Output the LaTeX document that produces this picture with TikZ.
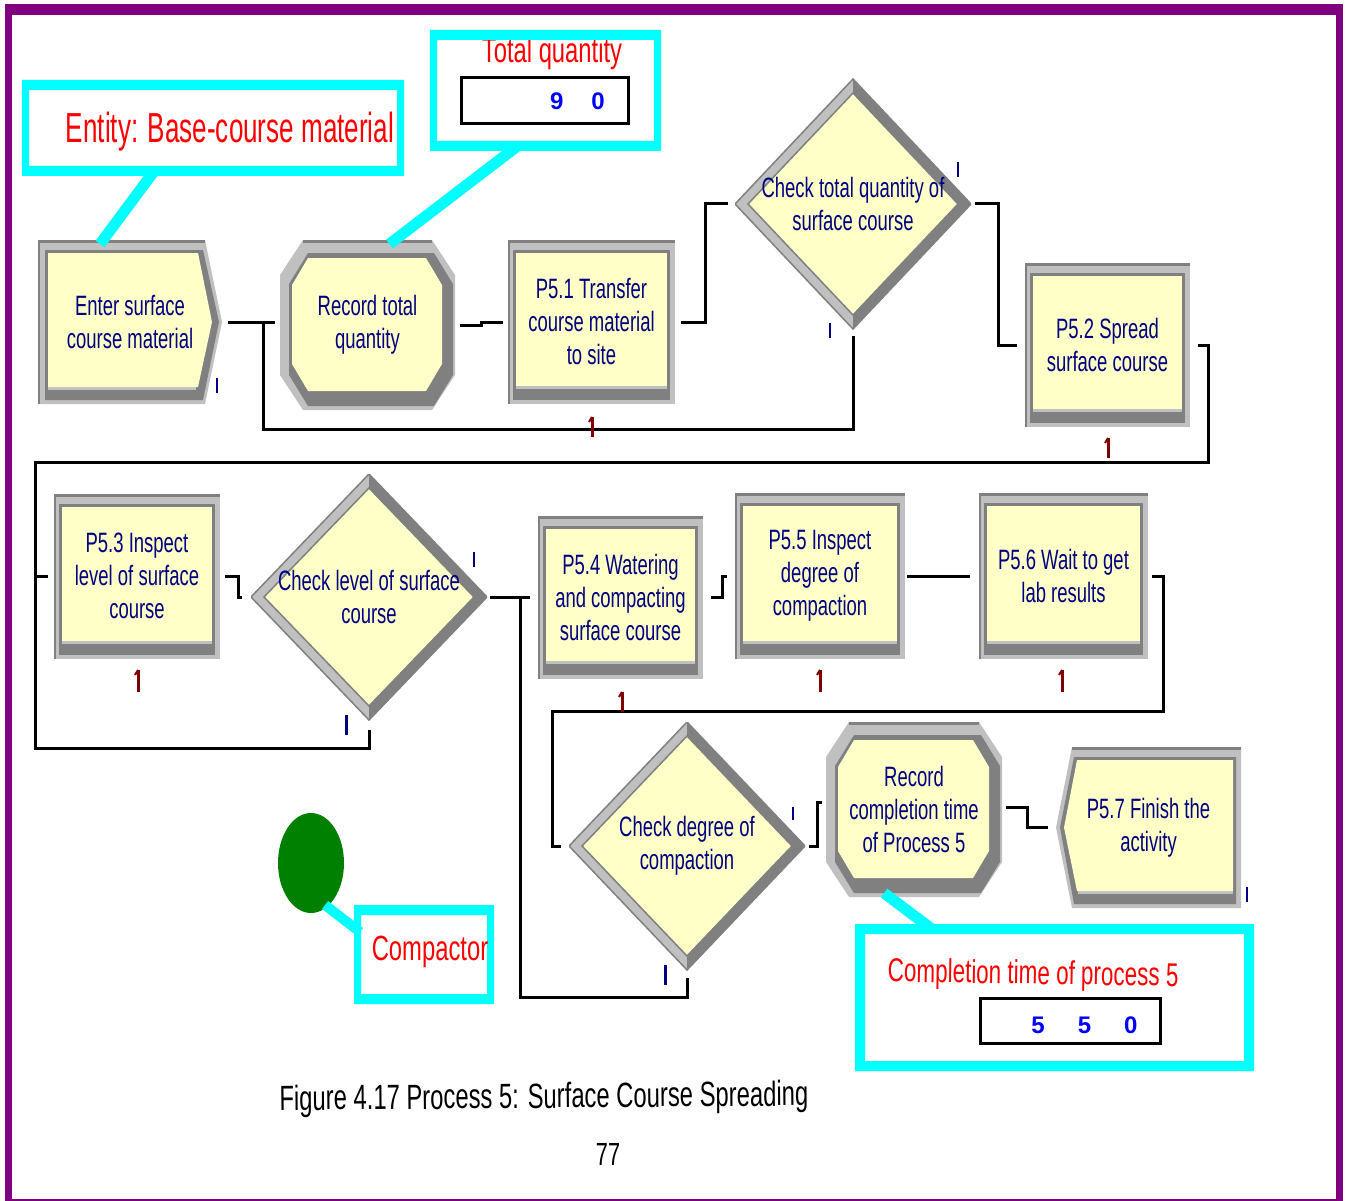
\documentclass[tikz,border=0pt]{standalone}
\usepackage{fontspec}
\newfontfamily\arenafont[FakeStretch=0.66]{Liberation Sans}
\newfontfamily\notefont[FakeStretch=0.68]{Liberation Sans}
\newfontfamily\entityfont[FakeStretch=0.62]{Liberation Sans}
\newfontfamily\digitfont{Liberation Sans}
\usetikzlibrary{shapes.geometric,calc}

\definecolor{framepurple}{HTML}{800080}
\definecolor{callcyan}{HTML}{00FFFF}
\definecolor{notered}{HTML}{FF0000}
\definecolor{navy}{HTML}{000080}
\definecolor{digitblue}{HTML}{0000FF}
\definecolor{modfill}{HTML}{FFFFC8}
\definecolor{lgray}{HTML}{C0C0C0}
\definecolor{dgray}{HTML}{808080}
\definecolor{countred}{HTML}{800000}
\definecolor{resgreen}{HTML}{008000}

% corner points of the current path picture
\newcommand\ppcorners{%
  \coordinate (ppnw) at (path picture bounding box.north west);
  \coordinate (ppne) at (path picture bounding box.north east);
  \coordinate (ppsw) at (path picture bounding box.south west);
  \coordinate (ppse) at (path picture bounding box.south east);
  \coordinate (ppn) at (path picture bounding box.north);
  \coordinate (pps) at (path picture bounding box.south);
  \coordinate (ppe) at (path picture bounding box.east);
  \coordinate (ppw) at (path picture bounding box.west);}

% chamfered outline: insets left, top, right, bottom; chamfer x, chamfer y
\newcommand\octo[6]{%
  ([shift={(#1pt+#5pt,-#2pt)}]ppnw) -- ([shift={(-#3pt-#5pt,-#2pt)}]ppne) --
  ([shift={(-#3pt,-#2pt-#6pt)}]ppne) -- ([shift={(-#3pt,#4pt+#6pt)}]ppse) --
  ([shift={(-#3pt-#5pt,#4pt)}]ppse) -- ([shift={(#1pt+#5pt,#4pt)}]ppsw) --
  ([shift={(#1pt,#4pt+#6pt)}]ppsw) -- ([shift={(#1pt,-#2pt-#6pt)}]ppnw) -- cycle}

% cyan note frame drawn on a named area: node, side width, top/bottom width
\newcommand\noteframe[3]{%
  \fill[callcyan, even odd rule] (#1.north west) rectangle (#1.south east)
    ([shift={(#2pt,-#3pt)}]#1.north west) rectangle ([shift={(-#2pt,#3pt)}]#1.south east);}

\tikzset{
  every node/.style={inner sep=0pt, outer sep=0pt},
  modlabel/.style={text=navy, align=center, font=\arenafont\fontsize{28}{33}\selectfont},
  processbox/.style={modlabel, rectangle, fill=lgray,
    path picture={\ppcorners
      \fill[dgray] (ppnw) rectangle ([yshift=-3pt]ppne);
      \fill[dgray] (ppnw) rectangle ([xshift=2pt]ppsw);
      \fill[dgray] ([shift={(5pt,-10pt)}]ppnw) rectangle ([shift={(-5pt,4pt)}]ppse);
      \fill[lgray] ([shift={(8pt,15pt)}]ppsw) rectangle ([shift={(-8pt,18pt)}]ppse);
      \fill[modfill] ([shift={(8pt,-13pt)}]ppnw) rectangle ([shift={(-8pt,18pt)}]ppse);}},
  recordbox/.style={modlabel, rectangle, fill=white,
    path picture={\ppcorners
      \fill[lgray] \octo{0}{0}{0}{0}{23}{35};
      \fill[dgray] ([xshift=23pt]ppnw) rectangle ([shift={(-23pt,-3pt)}]ppne);
      \fill[dgray] \octo{9}{13}{2}{4}{19}{31};
      \fill[modfill] \octo{12}{18}{13}{19}{16}{27};}},
  createbox/.style={modlabel, rectangle, fill=white,
    path picture={\ppcorners
      \fill[lgray] (ppnw) -- ([xshift=-17pt]ppne) -- (ppe) -- ([xshift=-17pt]ppse) -- (ppsw) -- cycle;
      \fill[dgray] (ppnw) rectangle ([shift={(-17pt,-3pt)}]ppne);
      \fill[dgray] (ppnw) rectangle ([xshift=2pt]ppsw);
      \fill[dgray] ([shift={(7pt,-10pt)}]ppnw) -- ([shift={(-19pt,-10pt)}]ppne) -- ([xshift=-3pt]ppe)
        -- ([shift={(-19pt,4pt)}]ppse) -- ([shift={(7pt,4pt)}]ppsw) -- cycle;
      \fill[lgray] ([shift={(10pt,14pt)}]ppsw) rectangle ([shift={(-26pt,17pt)}]ppse);
      \fill[modfill] ([shift={(10pt,-13pt)}]ppnw) -- ([shift={(-24pt,-13pt)}]ppne) -- ([xshift=-10pt]ppe)
        -- ([shift={(-24pt,17pt)}]ppse) -- ([shift={(10pt,17pt)}]ppsw) -- cycle;}},
  disposebox/.style={modlabel, rectangle, fill=white,
    path picture={\ppcorners
      \fill[lgray] ([xshift=16pt]ppnw) -- (ppne) -- (ppse) -- ([xshift=16pt]ppsw) -- (ppw) -- cycle;
      \fill[dgray] ([xshift=16pt]ppnw) rectangle ([yshift=-3pt]ppne);
      \fill[dgray] ([shift={(18pt,-10pt)}]ppnw) -- ([shift={(-5pt,-10pt)}]ppne) -- ([shift={(-5pt,4pt)}]ppse)
        -- ([shift={(18pt,4pt)}]ppsw) -- ([xshift=4pt]ppw) -- cycle;
      \fill[lgray] ([shift={(22pt,14pt)}]ppsw) rectangle ([shift={(-8pt,17pt)}]ppse);
      \fill[modfill] ([shift={(21pt,-13pt)}]ppnw) -- ([shift={(-8pt,-13pt)}]ppne) -- ([shift={(-8pt,17pt)}]ppse)
        -- ([shift={(21pt,17pt)}]ppsw) -- ([xshift=8pt]ppw) -- cycle;}},
  decisionbox/.style={modlabel, rectangle, fill=white,
    path picture={\ppcorners
      \fill[lgray] (ppn) -- (ppe) -- (pps) -- (ppw) -- cycle;
      \draw[dgray, line width=1.5pt] (ppn) -- (ppe) -- (pps) -- (ppw) -- cycle;
      \fill[dgray] (ppn) -- (ppe) -- (pps) -- ([yshift=14pt]pps) -- ([xshift=-13pt]ppe) -- ([yshift=-14pt]ppn) -- cycle;
      \filldraw[fill=modfill, draw=dgray, line width=1.5pt] ([yshift=-14pt]ppn) -- ([xshift=-13pt]ppe)
        -- ([yshift=14pt]pps) -- ([xshift=13pt]ppw) -- cycle;}},
  conn/.style={draw=black, line width=3pt},
  pointer/.style={draw=callcyan, line width=11pt},
  notearea/.style={rectangle, draw=none},
  notetext/.style={text=notered, anchor=base, font=\notefont\fontsize{#1}{#1}\selectfont},
  valuebox/.style={rectangle, draw=black, line width=3pt, fill=white},
  digits/.style={text=digitblue, font=\digitfont\bfseries\fontsize{24}{24}\selectfont},
  outmark/.style={draw=navy, line width=2pt},
  countmark/.style={draw=countred, line width=3pt},
}

\begin{document}
\begin{tikzpicture}[x=1pt,y=-1pt]
\useasboundingbox (0,0) rectangle (1346,1201);

% page frame
\fill[framepurple] (5,4) rectangle (1343,15);
\fill[framepurple] (5,4) rectangle (12,1201);
\fill[framepurple] (1336,4) rectangle (1343,1201);
\fill[framepurple] (5,1199) rectangle (1343,1201);

% modules
\node[createbox, minimum width=184pt, minimum height=164pt] (enter) at (130,322) {Enter surface\\course material};
\node[recordbox, minimum width=175pt, minimum height=170pt] (rec1) at (367.5,325) {Record total\\quantity};
\node[processbox, minimum width=167pt, minimum height=164pt] (p51) at (591.5,322) {P5.1 Transfer\\course material\\to site};
\node[decisionbox, minimum width=236pt, minimum height=250pt] (dec1) at (853,204) {Check total quantity of\\surface course};
\node[processbox, minimum width=165pt, minimum height=164pt] (p52) at (1107.5,345) {P5.2 Spread\\surface course};
\node[processbox, minimum width=166pt, minimum height=165pt] (p53) at (137,576) {P5.3 Inspect\\level of surface\\course};
\node[decisionbox, minimum width=236pt, minimum height=246pt] (dec2) at (369,597) {Check level of surface\\course};
\node[processbox, minimum width=165pt, minimum height=163pt] (p54) at (620.5,597) {P5.4 Watering\\and compacting\\surface course};
\node[processbox, minimum width=170pt, minimum height=166pt] (p55) at (820,576) {P5.5 Inspect\\degree of\\compaction};
\node[processbox, minimum width=169pt, minimum height=166pt] (p56) at (1063.5,576) {P5.6 Wait to get\\lab results};
\node[decisionbox, minimum width=236pt, minimum height=248pt] (dec3) at (687,846) {Check degree of\\compaction};
\node[recordbox, minimum width=176pt, minimum height=175pt] (rec2) at (914,809.5) {Record\\completion time\\of Process 5};
\node[disposebox, minimum width=185pt, minimum height=161pt] (p57) at (1148.5,827.5) {P5.7 Finish the\\activity};

% junctions of the connector network
\coordinate (j1) at ([xshift=41pt]enter.east);
\coordinate (bus1) at (35,462);
\coordinate (j2) at (bus1 |- p53.west);
\coordinate (j3) at ([xshift=33pt]dec2.east);
\coordinate (bus2) at (552,711);

% connectors
\draw[conn] ([xshift=6pt]enter.east) -- ([xshift=-5pt]rec1.west |- enter.east);
\draw[conn] ([xshift=5pt]rec1.east) -- ++(21pt,0) |- ([xshift=-5pt]p51.west);
\draw[conn] ([xshift=6pt]p51.east) -- ++(24pt,0) |- ([xshift=-7pt]dec1.west);
\draw[conn] ([xshift=4pt]dec1.east) -- ++(23pt,0) |- ([xshift=-8pt]p52.west);
\draw[conn] ([yshift=-7pt]dec1.south) -- ++(0,-93pt) -| (j1);
\draw[conn] ([xshift=8pt]p52.east) -- ++(10pt,0) |- (bus1) |- ([xshift=-6pt]p53.west);
\draw[conn] ([xshift=5pt]p53.east) -- ++(13pt,0) |- ([xshift=-9pt]dec2.west);
\draw[conn] ([xshift=3pt]dec2.east) -- ([xshift=-8pt]p54.west);
\draw[conn] ([yshift=-10pt]dec2.south) -- ++(0,-18pt) -| (j2);
\draw[conn] ([xshift=8pt]p54.east) -- ++(11pt,0) |- ([xshift=-8pt]p55.west);
\draw[conn] ([xshift=2pt]p55.east) -- ([xshift=-9pt]p56.west);
\draw[conn] ([xshift=4pt]p56.east) -- ++(11pt,0) |- (bus2) |- ([xshift=-8pt]dec3.west);
\draw[conn] ([yshift=-8pt]dec3.south) -- ++(0,-19pt) -| (j3);
\draw[conn] ([xshift=4pt]dec3.east) -- ++(8pt,0) |- ([shift={(-4pt,7pt)}]rec2.west);
\draw[conn] ([shift={(4pt,2pt)}]rec2.east) -- ++(21pt,0) |- ([xshift=-8pt]p57.west);

% output count marks
\foreach \x/\ya/\yb/\w in {217/378/393/2, 958/162/177/2, 830/323/338/2, 474/552/567/2,
    346/715/735/3, 793/807/820/2, 665/965/985/3, 1247/887/902/2}
  \draw[outmark, line width=\w pt] (\x,\ya) -- (\x,\yb);

% work-in-process marks
\foreach \x/\ya/\yb in {592/417/437, 1108/438/458, 138/670/692, 622/692/712, 820/670/692, 1062/670/692} {
  \draw[countmark] (\x,\ya) -- (\x,\yb);
  \draw[countmark, line width=2pt] (\x,\ya) -- (\x-3,\ya+5);
}

% resource
\node[ellipse, fill=resgreen, minimum width=66pt, minimum height=100pt] (compres) at (311,863) {};

% note areas
\node[notearea, minimum width=382pt, minimum height=96pt] (entnote) at (213,128) {};
\node[notearea, minimum width=231pt, minimum height=121pt] (qtynote) at (545.5,90.5) {};
\node[notearea, minimum width=399pt, minimum height=147pt] (timenote) at (1054.5,997.5) {};
\node[notearea, minimum width=140pt, minimum height=99pt] (compnote) at (424,954.5) {};

% note pointers
\draw[pointer] ([shift={(-58pt,6pt)}]entnote.south) -- ([shift={(-30pt,-4pt)}]enter.north);
\draw[pointer] ([shift={(-28pt,5pt)}]qtynote.south) -- ([shift={(22pt,-4pt)}]rec1.north);
\draw[pointer] ([shift={(-30pt,4pt)}]rec2.south) -- ([shift={(-124pt,-4pt)}]timenote.north);
\draw[pointer, line width=10pt] ([shift={(14pt,-42pt)}]compres.center) -- ([shift={(6pt,-27pt)}]compnote.north west);

% note contents
\node[notetext=35] (qtytext) at (552,63) {Total quantity};
\node[valuebox, minimum width=167pt, minimum height=46pt] (qtyvalue) at (544.5,101) {};
\node[digits] (qtydigits) at (577.5,101) {9\hspace{28pt}0};
\node[valuebox, minimum width=180pt, minimum height=45pt] (timevalue) at (1070,1020.5) {};
\node[digits] (timedigits) at (1084.5,1025) {5\hspace{33pt}5\hspace{33pt}0};

\noteframe{entnote}{7}{10}
\noteframe{qtynote}{7}{10}
\noteframe{timenote}{10}{10}
\noteframe{compnote}{7}{10}

\node[notetext=42, font=\entityfont\fontsize{42}{42}\selectfont] (enttext) at (230,143) {Entity: Base-course material};
\node[notetext=33, rotate=-0.9] (timetext) at (1033,984) {Completion time of process 5};
\node[notetext=35] (comptext) at (430,960) {Compactor};

% caption and page number
\node[anchor=base, rotate=0.5, font=\notefont\fontsize{35}{35}\selectfont] (caption) at (544,1108) {Figure 4.17 Process 5: Surface Course Spreading};
\node[anchor=base, font=\notefont\fontsize{32}{32}\selectfont] (pagenum) at (608,1165) {77};
\end{tikzpicture}
\end{document}
